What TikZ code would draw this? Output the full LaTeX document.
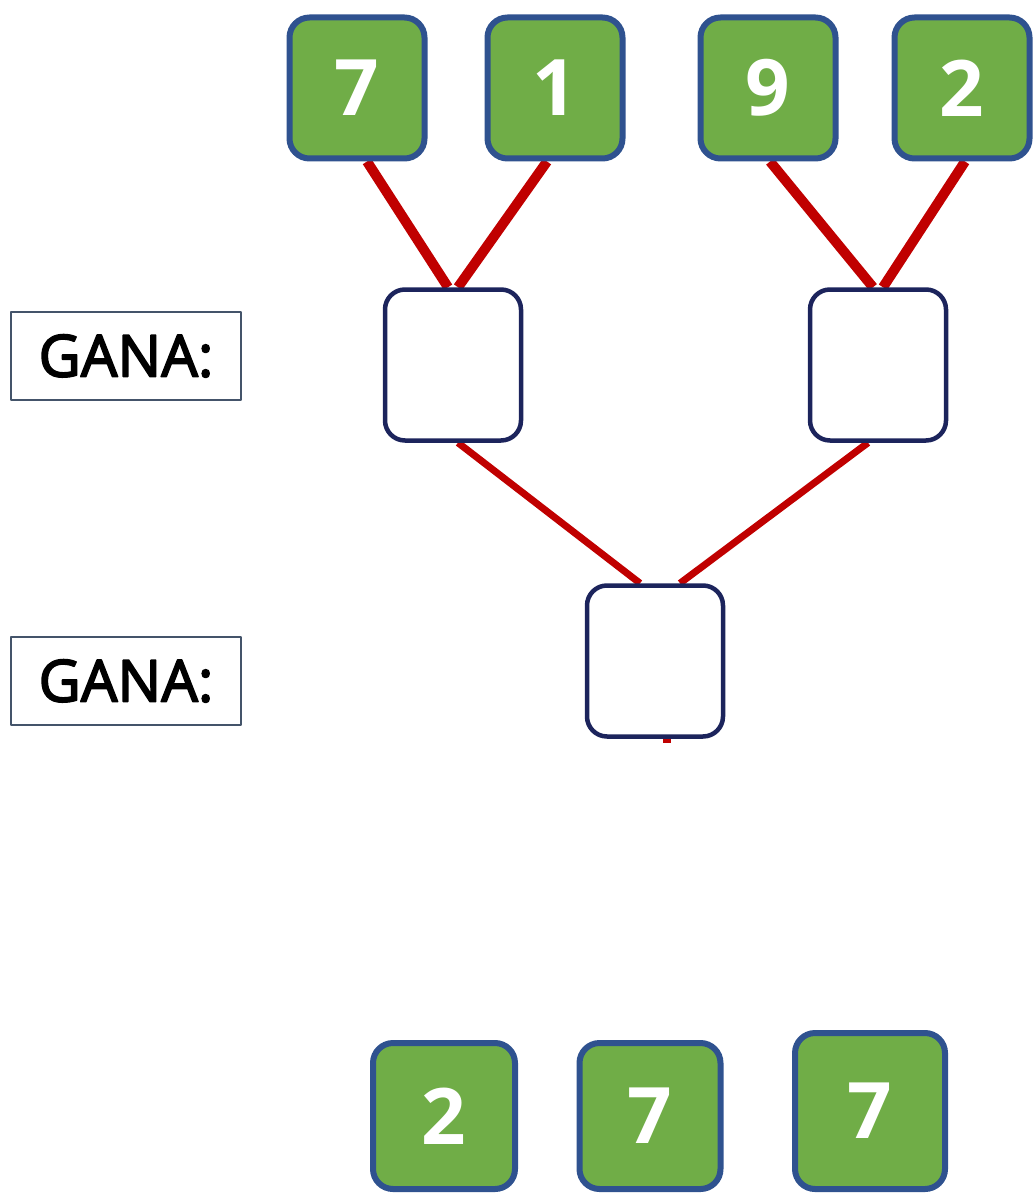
\documentclass[tikz,border=0pt]{standalone}
\usepackage{fontspec}
\setmainfont{Open Sans}
\newfontfamily\nhanfont[FakeBold=3]{Open Sans}
\usetikzlibrary{backgrounds}
\definecolor{la}{RGB}{112,173,71}
\definecolor{vienla}{RGB}{47,82,143}
\definecolor{vientrong}{RGB}{28,36,92}
\definecolor{do}{RGB}{192,0,0}
\definecolor{xam}{RGB}{68,84,106}
\begin{document}
\begin{tikzpicture}[x=1pt,y=-1pt,line join=round,
	so/.style={draw=vienla,line width=6pt,fill=la,rounded corners=20pt,inner sep=0pt,
		minimum width=135pt,minimum height=141pt,text=white,font=\bfseries\fontsize{78}{78}\selectfont},
	trong/.style={draw=vientrong,line width=4.5pt,fill=white,rounded corners=20pt,
		minimum width=136pt,minimum height=151pt},
	gana/.style={draw=xam,line width=1.5pt,inner sep=0pt,minimum width=230pt,minimum height=88pt,
		font=\nhanfont\fontsize{58}{58}\selectfont},
	day/.style={draw=do,line width=10pt}]
	\useasboundingbox (0,0) rectangle (1034,1193);
	%==Các ô số phía trên
	\node[so] (A) at (357,88) {7};
	\node[so] (B) at (555,88) {1};
	\node[so] (C) at (768,88) {9};
	\node[so] (D) at (962,88) {2};
	%==Các ô trống
	\node[trong] (E) at (453,365) {};
	\node[trong] (F) at (878,365) {};
	\node[trong] (G) at (655,661) {};
	%==Nhãn
	\node[gana] (N1) at (126,356) {GANA:};
	\node[gana] (N2) at (126,681) {GANA:};
	%==Các ô số phía dưới
	\node[so,minimum width=142pt,minimum height=146pt] (H) at (444,1116) {2};
	\node[so,minimum width=141pt,minimum height=146pt] (I) at (650,1116) {7};
	\node[so,minimum width=150pt,minimum height=156pt] (K) at (870,1111) {7};
	%==Các đường nối
	\begin{scope}[on background layer]
	\draw[day] ([xshift=10pt]A.south)--([xshift=-5pt]E.north);
	\draw[day] ([xshift=-8pt]B.south)--([xshift=5pt]E.north);
	\draw[day] ([xshift=2pt]C.south)--([xshift=-5pt]F.north);
	\draw[day] ([xshift=3pt]D.south)--([xshift=5pt]F.north);
	\draw[day,line width=7pt] ([xshift=5pt]E.south)--([xshift=-15pt]G.north);
	\draw[day,line width=7pt] ([xshift=-10pt]F.south)--([xshift=25pt]G.north);
	\draw[day,line width=8pt] ([xshift=12pt,yshift=5pt]G.south)--([xshift=12pt,yshift=-4pt]G.south);
	\end{scope}
\end{tikzpicture}
\end{document}
